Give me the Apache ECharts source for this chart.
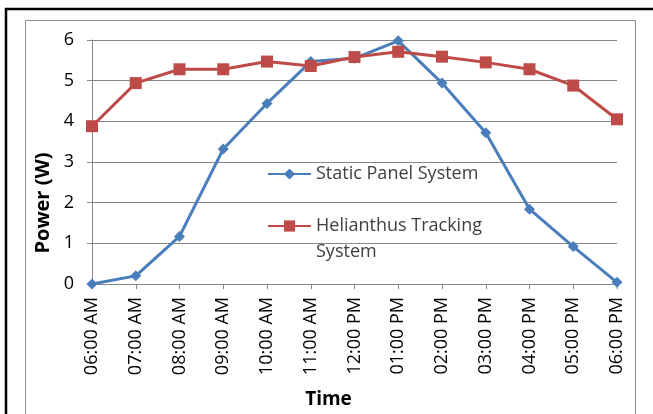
<!DOCTYPE html>
<html><head><meta charset="utf-8">
<script src="https://cdn.jsdelivr.net/npm/echarts@6/dist/echarts.min.js"></script>
<style>html,body{margin:0;padding:0;background:#fff}#c{width:653px;height:414px}</style>
</head><body><div id="c"></div>
<script>
const categories = ['06:00 AM','07:00 AM','08:00 AM','09:00 AM','10:00 AM','11:00 AM','12:00 PM','01:00 PM','02:00 PM','03:00 PM','04:00 PM','05:00 PM','06:00 PM'];
const staticPanel = [0, 0.2, 1.17, 3.32, 4.44, 5.47, 5.55, 5.98, 4.94, 3.72, 1.84, 0.92, 0.04];
const helianthus = [3.88, 4.94, 5.28, 5.28, 5.47, 5.36, 5.58, 5.71, 5.59, 5.45, 5.28, 4.88, 4.05];
const yTicks = [0, 1, 2, 3, 4, 5, 6];
const seriesNames = ['Static Panel System', 'Helianthus Tracking System'];

const FONT = 'Open Sans';
const chart = echarts.init(document.getElementById('c'), null, {renderer: 'canvas'});
chart.setOption({
  animation: false,
  backgroundColor: '#fff',
  graphic: [
    {type: 'rect', shape: {x: 6, y: 9, width: 700, height: 500}, style: {fill: 'none', stroke: '#000', lineWidth: 2.5}, silent: true},
    {type: 'rect', shape: {x: 25.5, y: 20.5, width: 610, height: 500}, style: {fill: 'none', stroke: '#8c8c8c', lineWidth: 1}, silent: true}
  ],
  grid: {left: 92, right: 36, top: 40, bottom: 125, containLabel: false},
  legend: {
    orient: 'vertical', left: 262, top: 156, itemWidth: 43, itemHeight: 14, itemGap: 0,
    textStyle: {fontFamily: FONT, fontSize: 18, color: '#404040', lineHeight: 26},
    formatter: n => n === seriesNames[1] ? ' \nHelianthus Tracking\nSystem' : n,
    data: seriesNames
  },
  xAxis: {
    type: 'category', data: categories, boundaryGap: false,
    name: 'Time', nameLocation: 'middle', nameGap: 106,
    nameTextStyle: {fontFamily: FONT, fontSize: 19, fontWeight: 'bold', color: '#000', padding: [0, 52, 0, 0]},
    axisLine: {lineStyle: {color: '#868686', width: 1}},
    axisTick: {show: true, length: 5, alignWithLabel: true, lineStyle: {color: '#868686'}},
    axisLabel: {rotate: 90, interval: 0, margin: 13, fontFamily: FONT, fontSize: 18, color: '#000'},
    splitLine: {show: false}
  },
  yAxis: {
    type: 'value', min: 0, max: 6, interval: 1,
    name: 'Power (W)', nameLocation: 'middle', nameGap: 37,
    nameTextStyle: {fontFamily: FONT, fontSize: 20, fontWeight: 'bold', color: '#000', padding: [0, 82, 0, 0]},
    axisLine: {show: true, lineStyle: {color: '#868686', width: 1}},
    axisTick: {show: true, length: 5, lineStyle: {color: '#868686'}},
    axisLabel: {margin: 18, fontFamily: FONT, fontSize: 18, color: '#000',
      formatter: v => yTicks.includes(v) ? String(v) : ''},
    splitLine: {lineStyle: {color: '#868686', width: 1}}
  },
  series: [
    {name: seriesNames[0], type: 'line', data: staticPanel,
     symbol: 'diamond', symbolSize: 11, lineStyle: {color: '#4A7EBB', width: 3},
     itemStyle: {color: '#4A7EBB'}, z: 2},
    {name: seriesNames[1], type: 'line', data: helianthus,
     symbol: 'rect', symbolSize: 12, lineStyle: {color: '#BE4B48', width: 3},
     itemStyle: {color: '#BE4B48'}, z: 3}
  ]
});
</script></body></html>
